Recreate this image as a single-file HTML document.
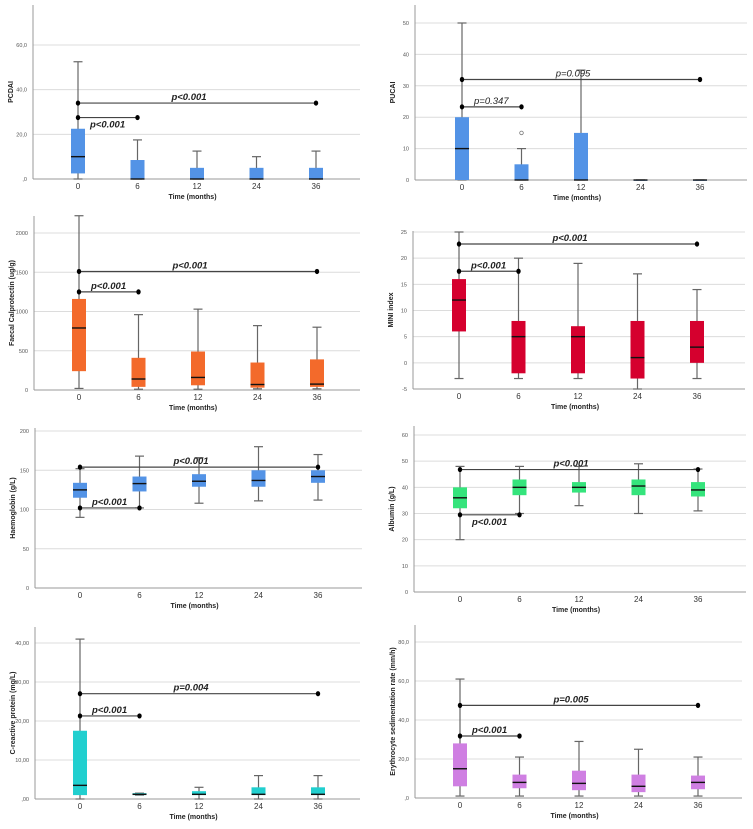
<!DOCTYPE html>
<html><head><meta charset="utf-8"><style>
html,body{margin:0;padding:0;background:#fff;}
svg{display:block;font-family:"Liberation Sans",sans-serif;}
</style></head><body>
<svg id="fig" width="753" height="829" viewBox="0 0 753 829" xmlns="http://www.w3.org/2000/svg"></svg>
<script>
const categories = ["0","6","12","24","36"];

const pcdaiLow=[0,0,0,0,0], pcdaiQ1=[2.5,0,0,0,0], pcdaiMed=[10,0,0,0,0], pcdaiQ3=[22.5,8.5,5,5,5], pcdaiHigh=[52.5,17.5,12.5,10,12.5];
const pcdaiTicks=[0,20,40,60], pcdaiTickLabels=[",0","20,0","40,0","60,0"];
const pucaiLow=[0,0,0,0,0], pucaiQ1=[0,0,0,0,0], pucaiMed=[10,0,0,0,0], pucaiQ3=[20,5,15,0,0], pucaiHigh=[50,10,35,0,0];
const pucaiOutliers=[[1,15]];
const pucaiTicks=[0,10,20,30,40,50], pucaiTickLabels=["0","10","20","30","40","50"];
const fcLow=[20,10,10,15,15], fcQ1=[240,40,60,30,40], fcMed=[790,140,160,70,75], fcQ3=[1160,410,490,350,390], fcHigh=[2220,960,1030,820,800];
const fcTicks=[0,500,1000,1500,2000], fcTickLabels=["0","500","1000","1500","2000"];
const miniLow=[-3,-3,-3,-5,-3], miniQ1=[6,-2,-2,-3,0], miniMed=[12,5,5,1,3], miniQ3=[16,8,7,8,8], miniHigh=[25,20,19,17,14];
const miniTicks=[-5,0,5,10,15,20,25], miniTickLabels=["-5","0","5","10","15","20","25"];
const hbLow=[90,102,108,111,112], hbQ1=[115,123,129,129,134], hbMed=[125,133,136,137,142], hbQ3=[134,142,145,150,150], hbHigh=[152,168,166,180,170];
const hbTicks=[0,50,100,150,200], hbTickLabels=["0","50","100","150","200"];
const albLow=[20,30,33,30,31], albQ1=[32,37,38,37,36.5], albMed=[36,40,40,40.5,39], albQ3=[40,43,42,43,42], albHigh=[48,48,48,49,47];
const albTicks=[0,10,20,30,40,50,60], albTickLabels=["0","10","20","30","40","50","60"];
const crpLow=[0,1,0,0,0], crpQ1=[1,1,1,1,1], crpMed=[3.5,1.2,1.2,1.2,1.2], crpQ3=[17.5,1.5,2,3,3], crpHigh=[41,1.5,3,6,6];
const crpTicks=[0,10,20,30,40], crpTickLabels=[",00","10,00","20,00","30,00","40,00"];
const esrLow=[1,1,1,1,1], esrQ1=[6,5,4,3,4.5], esrMed=[15,8,7.5,6,8], esrQ3=[28,12,14,12,11.5], esrHigh=[61,21,29,25,21];
const esrTicks=[0,20,40,60,80], esrTickLabels=[",0","20,0","40,0","60,0","80,0"];

// comparisons: [value, fromIdx, toIdx, label, labelAbove, bold]
const pcdaiComps=[[34,0,4,"p<0.001",true,true],[27.5,0,1,"p<0.001",false,true]];
const pucaiComps=[[32,0,4,"p=0.095",true,false],[23.3,0,1,"p=0.347",true,false]];
const fcComps=[[1510,0,4,"p<0.001",true,true],[1250,0,1,"p<0.001",true,true]];
const miniComps=[[22.7,0,4,"p<0.001",true,true],[17.5,0,1,"p<0.001",true,true]];
const hbComps=[[154,0,4,"p<0.001",true,true],[102,0,1,"p<0.001",true,true]];
const albComps=[[46.8,0,4,"p<0.001",true,true],[29.5,0,1,"p<0.001",false,true]];
const crpComps=[[27,0,4,"p=0.004",true,true],[21.3,0,1,"p<0.001",true,true]];
const esrComps=[[47.5,0,4,"p=0.005",true,true],[31.8,0,1,"p<0.001",true,true]];

const NS="http://www.w3.org/2000/svg";
const svg=document.getElementById('fig');
function mk(tag,attrs,parent,text){const e=document.createElementNS(NS,tag);for(const k in attrs)e.setAttribute(k,attrs[k]);if(text!==undefined)e.textContent=text;(parent||svg).appendChild(e);return e;}

function panel(name,g){
  const grp=mk('g',{});
  
  
  const y=v=>g.py0+(v-g.v0)*(g.py1-g.py0)/(g.v1-g.v0);
  const x=i=>g.x0+g.off+i*59.5;
  const bottom=y(g.ticks[0]);
  g.ticks.forEach((t,i)=>{
    if(i>0){const gl=mk('line',{x1:g.x0,x2:g.x1,y1:y(t),y2:y(t),stroke:'#dcdcdc','stroke-width':1},grp);
      
      }
    const tl=mk('text',{x:g.x0-6,y:y(t)+2,'font-size':5.5,'text-anchor':'end',fill:'#555'},grp,g.tickLabels[i]);
    
    
  });
  const ya=mk('line',{x1:g.x0,x2:g.x0,y1:g.top,y2:bottom,stroke:'#999','stroke-width':1},grp);
  
  
  const xa=mk('line',{x1:g.x0,x2:g.x1,y1:bottom,y2:bottom,stroke:'#999','stroke-width':1},grp);
  
  
  categories.forEach((c,i)=>{
    const t=mk('text',{x:x(i),y:bottom+10,'font-size':8,'text-anchor':'middle',fill:'#333'},grp,c);
    
    
  });
  const xt=mk('text',{x:(g.x0+g.x1)/2-4,y:bottom+20,'font-size':7,'font-weight':'bold','text-anchor':'middle',fill:'#222'},grp,'Time (months)');
  
  
  const ytx=g.x0-20, ytc=(g.top+bottom)/2;
  const yt=mk('text',{x:ytx,y:ytc,'font-size':7,'font-weight':'bold','text-anchor':'middle',fill:'#222',transform:`rotate(-90 ${ytx} ${ytc})`},grp,g.title);
  
  
  // boxes
  for(let i=0;i<categories.length;i++){
    const cx=x(i);
    const w=mk('line',{x1:cx,x2:cx,y1:y(g.lo[i]),y2:y(g.hi[i]),stroke:'#666','stroke-width':1.2},grp);
    
    
    [g.lo[i],g.hi[i]].forEach(v=>{mk('line',{x1:cx-4.5,x2:cx+4.5,y1:y(v),y2:y(v),stroke:'#666','stroke-width':1.2},grp);});
    const top=y(g.q3[i]),bot=y(g.q1[i]);
    const b=mk('rect',{x:cx-7,y:top,width:14,height:Math.max(bot-top,0.8),fill:g.color},grp);
    
    
    const m=mk('line',{x1:cx-7,x2:cx+7,y1:y(g.med[i]),y2:y(g.med[i]),stroke:'#111','stroke-width':1.4},grp);
    
    
  }
  (g.outliers||[]).forEach(o=>{
    const c=mk('circle',{cx:x(o[0]),cy:y(o[1]),r:1.8,fill:'none',stroke:'#777','stroke-width':0.8},grp);
    
    
  });
  g.comps.forEach(cp=>{
    const yy=y(cp[0]),xa0=x(cp[1]),xb=x(cp[2]);
    const l=mk('line',{x1:xa0,x2:xb,y1:yy,y2:yy,stroke:'#444','stroke-width':1.2},grp);
    
    
    [xa0,xb].forEach(px=>{mk('ellipse',{cx:px,cy:yy,rx:2.2,ry:2.6,fill:'#000'},grp);});
    let lx, anchor;
    if(cp[2]-cp[1]>1){lx=(xa0+xb)/2-8;anchor='middle';}else{lx=xa0+12;anchor='start';}
    const ly=cp[4]?yy-3:yy+10;
    const t=mk('text',{x:lx,y:ly,'font-size':9.5,'font-style':'italic','font-weight':cp[5]?'bold':'normal','text-anchor':anchor,fill:'#222'},grp,cp[3]);
    
    
  });
}

panel('pcdai',{x0:33,x1:360,off:45,top:5,py0:179,py1:45,v0:0,v1:60,ticks:pcdaiTicks,tickLabels:pcdaiTickLabels,title:'PCDAI',color:'#5393e6',lo:pcdaiLow,q1:pcdaiQ1,med:pcdaiMed,q3:pcdaiQ3,hi:pcdaiHigh,comps:pcdaiComps});
panel('pucai',{x0:415,x1:747,off:47,top:5,py0:180,py1:23,v0:0,v1:50,ticks:pucaiTicks,tickLabels:pucaiTickLabels,title:'PUCAI',color:'#5393e6',lo:pucaiLow,q1:pucaiQ1,med:pucaiMed,q3:pucaiQ3,hi:pucaiHigh,outliers:pucaiOutliers,comps:pucaiComps});
panel('faecal-calprotectin',{x0:34,x1:360,off:45,top:216,py0:390,py1:233,v0:0,v1:2000,ticks:fcTicks,tickLabels:fcTickLabels,title:'Faecal Calprotectin (ug/g)',color:'#f36a2b',lo:fcLow,q1:fcQ1,med:fcMed,q3:fcQ3,hi:fcHigh,comps:fcComps});
panel('mini-index',{x0:413,x1:745,off:46,top:231,py0:389,py1:232,v0:-5,v1:25,ticks:miniTicks,tickLabels:miniTickLabels,title:'MINI index',color:'#d5002e',lo:miniLow,q1:miniQ1,med:miniMed,q3:miniQ3,hi:miniHigh,comps:miniComps});
panel('haemoglobin',{x0:35,x1:362,off:45,top:428,py0:588,py1:431,v0:0,v1:200,ticks:hbTicks,tickLabels:hbTickLabels,title:'Haemoglobin (g/L)',color:'#5393e6',lo:hbLow,q1:hbQ1,med:hbMed,q3:hbQ3,hi:hbHigh,comps:hbComps});
panel('albumin',{x0:414,x1:746,off:46,top:426,py0:592,py1:435,v0:0,v1:60,ticks:albTicks,tickLabels:albTickLabels,title:'Albumin (g/L)',color:'#35e47c',lo:albLow,q1:albQ1,med:albMed,q3:albQ3,hi:albHigh,comps:albComps});
panel('c-reactive-protein',{x0:35,x1:360,off:45,top:627,py0:799,py1:643,v0:0,v1:40,ticks:crpTicks,tickLabels:crpTickLabels,title:'C-reactive protein (mg/L)',color:'#21cfcf',lo:crpLow,q1:crpQ1,med:crpMed,q3:crpQ3,hi:crpHigh,comps:crpComps});
panel('esr',{x0:415,x1:742,off:45,top:625,py0:798,py1:642,v0:0,v1:80,ticks:esrTicks,tickLabels:esrTickLabels,title:'Erythrocyte sedimentation rate (mm/h)',color:'#cf7fe2',lo:esrLow,q1:esrQ1,med:esrMed,q3:esrQ3,hi:esrHigh,comps:esrComps});
</script>
</body></html>
